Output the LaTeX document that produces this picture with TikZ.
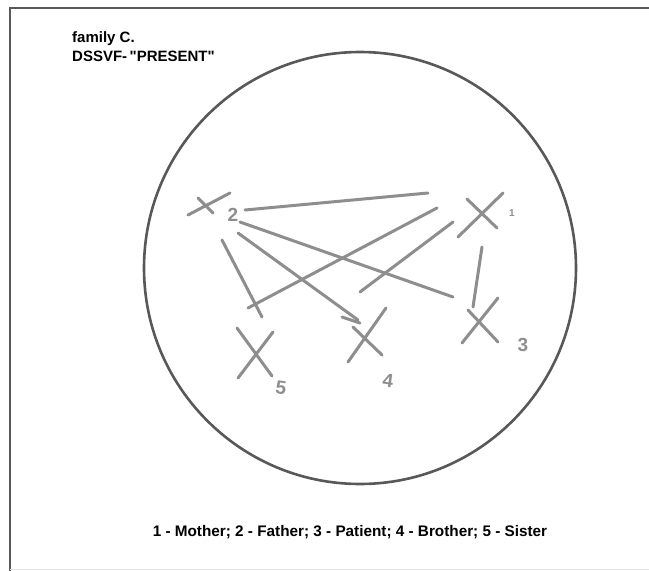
\documentclass[tikz,border=0pt]{standalone}
\usepackage{fontspec}
\setmainfont{Liberation Sans}
\newfontfamily\plainsans{Liberation Sans}
\definecolor{sketch}{HTML}{8E8E8E}
\definecolor{ringgray}{HTML}{585858}
\definecolor{framegray}{HTML}{5A5A5A}
\begin{document}
\begin{tikzpicture}[x=1pt,y=-1pt,
  pen/.style={draw=sketch, line width=3pt, line cap=round},
  ring/.style={draw=ringgray, line width=2.6pt},
  digit/.style={text=sketch, inner sep=0pt, font=\bfseries\fontsize{19}{19}\selectfont},
  hdr/.style={inner sep=0pt, anchor=base west, font=\plainsans\bfseries\fontsize{15}{18}\selectfont},
  caption/.style={inner sep=0pt, anchor=base, font=\bfseries\fontsize{15.3}{18}\selectfont}]
\useasboundingbox (0,0) rectangle (649,571);
\fill[white] (0,0) rectangle (649,571);
% frame
\draw[framegray, line width=2pt] (649,8) -- (10,8) -- (10,571);
\draw[black!10, line width=1pt] (10,569) -- (649,569);
% header
\node[hdr] (title) at (72,42) {family C.};
\node[hdr] (subtitle) at (72,61) {DSSVF-\,"PRESENT"};
% circle
\node[ring, circle, minimum size=432pt, inner sep=0pt] (field) at (360,268) {};
% member marks (X)
\draw[pen] (188,215) -- (230,193) (198,198) -- (213,213);   % 2
\draw[pen] (467,199) -- (497,228) (503,193) -- (458,237);   % 1
\draw[pen] (498,298) -- (462,343) (468,310) -- (498,342);   % 3
\draw[pen] (386,308) -- (348,362) (353,327) -- (382,355) (342,317) -- (360,323); % 4
\draw[pen] (237,328) -- (272,376) (273,332) -- (238,378);   % 5
% member labels
\node[digit] (n2) at (233,215) {2};
\node[digit, font=\bfseries\fontsize{10}{10}\selectfont] (n1) at (512,213) {1};
\node[digit] (n3) at (523,345) {3};
\node[digit, rotate=-8] (n4) at (388,381) {4};
\node[digit, rotate=-8] (n5) at (281,388) {5};
% connector end points
\coordinate (a21) at (245,210); \coordinate (b21) at (428,193);
\coordinate (a23) at (240,222); \coordinate (b23) at (453,297);
\coordinate (a24) at (238,233); \coordinate (b24) at (358,320);
\coordinate (a25) at (222,240); \coordinate (b25) at (262,317);
\coordinate (a15) at (437,208); \coordinate (b15) at (248,308);
\coordinate (a14) at (453,222); \coordinate (b14) at (360,292);
\coordinate (a13) at (482,247); \coordinate (b13) at (473,307);
% connectors
\draw[pen] (a21) -- (b21);
\draw[pen] (a23) -- (b23);
\draw[pen] (a24) -- (b24);
\draw[pen] (a25) -- (b25);
\draw[pen] (a15) -- (b15);
\draw[pen] (a14) -- (b14);
\draw[pen] (a13) -- (b13);
% caption
\node[caption] (legend) at (350,536) {1 - Mother; 2 - Father; 3 - Patient; 4 - Brother; 5 - Sister};
\end{tikzpicture}
\end{document}
